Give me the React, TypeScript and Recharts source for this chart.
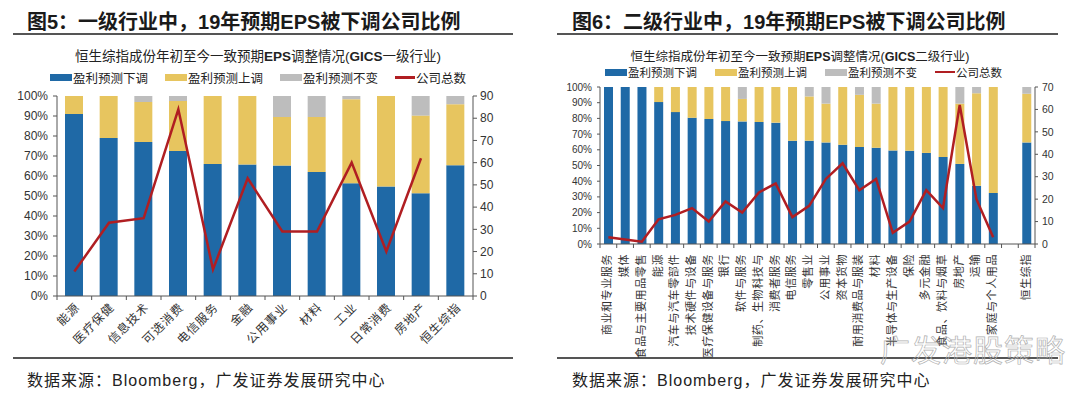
import React from 'react';
import { ComposedChart, Bar, Line, XAxis, YAxis } from 'recharts';

// 图5: GICS 一级行业
const sectors1 = ['能源', '医疗保健', '信息技术', '可选消费', '电信服务', '金融', '公用事业', '材料', '工业', '日常消费', '房地产', '恒生综指'];
const cut1 = [91, 79, 77, 72.5, 66, 65.7, 65.2, 62, 56.4, 54.8, 51.4, 65.4];
const raise1 = [9, 21, 20, 25, 34, 34.3, 24.3, 27.5, 42, 45.2, 38.8, 30.5];
const flat1 = [0, 0, 3, 2.5, 0, 0, 10.5, 10.5, 1.6, 0, 9.8, 4.1];
const companies1 = [11, 33, 35, 84, 12, 53, 29, 29, 60, 20, 62, null];

// 图6: GICS 二级行业
const sectors2 = [
  '商业和专业服务', '媒体', '食品与主要用品零售', '能源', '汽车与汽车零部件', '技术硬件与设备',
  '医疗保健设备与服务', '银行', '软件与服务', '制药、生物科技与', '消费者服务', '电信服务', '零售业',
  '公用事业', '资本货物', '耐用消费品与服装', '材料', '半导体与生产设备', '保险', '多元金融',
  '食品、饮料与烟草', '房地产', '运输', '家庭与个人用品', '', '恒生综指',
];
const cut2 = [100, 100, 100, 90.4, 84, 80.4, 79.6, 78.3, 78.1, 77.7, 77.3, 65.8, 65.8, 64.7, 63.2, 61.8, 61.3, 59.6, 59.4, 58, 55.4, 51, 37.1, 32.5, null, 64.7];
const raise2 = [0, 0, 0, 9.6, 16, 19.6, 20.4, 21.7, 14.3, 22.3, 22.7, 34.2, 28.2, 24.7, 36.8, 33.2, 28.1, 40.4, 40.6, 42, 44.6, 38.4, 58.9, 67.5, null, 31];
const flat2 = [0, 0, 0, 0, 0, 0, 0, 0, 7.6, 0, 0, 0, 6, 10.6, 0, 5, 10.6, 0, 0, 0, 0, 10.6, 4, 0, null, 4.3];
const companies2 = [3, 2, 1, 11, 13, 16, 10, 19, 14, 23, 27, 12, 17, 29, 36, 24, 29, 5, 10, 24, 16, 62, 20, 3, null, null];

const pctTicks = [0, 10, 20, 30, 40, 50, 60, 70, 80, 90, 100];
const countTicks1 = [0, 10, 20, 30, 40, 50, 60, 70, 80, 90];
const countTicks2 = [0, 10, 20, 30, 40, 50, 60, 70];

const BLUE = '#1F69A6';
const YELLOW = '#E7C55F';
const GREY = '#BDBDBD';
const RED = '#B01E22';
const AXIS = '#555';
const FONT = '"Liberation Sans", "Noto Sans CJK SC", sans-serif';

const toRows = (cats: string[], cut: any[], raise: any[], flat: any[], total: any[]) =>
  cats.map((name, i) => ({ name, cut: cut[i], raise: raise[i], flat: flat[i], total: total[i] }));

const rows1 = toRows(sectors1, cut1, raise1, flat1, companies1);
const rows2 = toRows(sectors2, cut2, raise2, flat2, companies2);

// category ticks sit between bars, like the Excel original
const makeTick = (step: number, count: number, mode: 'diag' | 'vertical', fontSize: number) => (props: any) => {
  const { x, y, payload, index } = props;
  const half = step / 2;
  return (
    <g>
      <line x1={x - half} x2={x - half} y1={y} y2={y + 4} stroke={AXIS} />
      {index === count - 1 && <line x1={x + half} x2={x + half} y1={y} y2={y + 4} stroke={AXIS} />}
      {mode === 'diag' ? (
        <text transform={`translate(${x + 6},${y + 12}) rotate(-45)`} textAnchor="end" fontSize={fontSize}
          letterSpacing={1} fill="#333" fontFamily={FONT}>
          {payload.value}
        </text>
      ) : (
        <text transform={`translate(${x - 1},${y + 10}) rotate(-90)`} textAnchor="end" dominantBaseline="central"
          fontSize={fontSize} letterSpacing={0.6} fill="#333" fontFamily={FONT}>
          {payload.value}
        </text>
      )}
    </g>
  );
};

const LegendRow = ({ left, top, fontSize, gap }: { left: number; top: number; fontSize: number; gap: number }) => {
  const items = [
    { label: '盈利预测下调', color: BLUE, line: false },
    { label: '盈利预测上调', color: YELLOW, line: false },
    { label: '盈利预测不变', color: GREY, line: false },
    { label: '公司总数', color: RED, line: true },
  ];
  return (
    <div style={{ position: 'absolute', left, top, display: 'flex', alignItems: 'center', gap, fontFamily: FONT, fontSize, color: '#222', whiteSpace: 'nowrap' }}>
      {items.map((it) => (
        <div key={it.label} style={{ display: 'flex', alignItems: 'center' }}>
          <span style={{ display: 'inline-block', width: it.line ? 20 : 22, height: it.line ? 2.5 : 7, background: it.color, marginRight: 1 }} />
          <span>{it.label}</span>
        </div>
      ))}
    </div>
  );
};

const Subtitle = ({ center, top, fontSize, level }: { center: number; top: number; fontSize: number; level: string }) => (
  <div style={{ position: 'absolute', left: center - 250, width: 500, top, textAlign: 'center', fontFamily: FONT, fontSize, color: '#222', whiteSpace: 'nowrap' }}>
    恒生综指成份年初至今一致预期<b>EPS</b>调整情况(<b>GICS</b>{level}行业)
  </div>
);

const Frame = ({ left, lineLeft, lineRight, title }: { left: number; lineLeft: number; lineRight: number; title: string }) => (
  <>
    <div style={{ position: 'absolute', left, top: 6, fontFamily: FONT, fontSize: 20, fontWeight: 'bold', color: '#1a1a1a', whiteSpace: 'nowrap' }}>
      {title}
    </div>
    <div style={{ position: 'absolute', left: lineLeft, width: lineRight - lineLeft, top: 33, height: 1.5, background: '#555' }} />
    <div style={{ position: 'absolute', left: lineLeft, width: lineRight - lineLeft, top: 357, height: 1.5, background: '#555' }} />
    <div style={{ position: 'absolute', left, top: 367, fontFamily: FONT, fontSize: 16, letterSpacing: 1, color: '#222', whiteSpace: 'nowrap' }}>
      数据来源：Bloomberg，广发证券发展研究中心
    </div>
  </>
);

const App = () => {
  const step1 = (473 - 57) / sectors1.length;
  const step2 = (495 - 60) / sectors2.length;
  return (
    <div style={{ position: 'absolute', left: 0, top: 0, width: 1080, height: 393, background: '#fff', overflow: 'hidden' }}>
      <Frame left={27} lineLeft={13} lineRight={513} title="图5：一级行业中，19年预期EPS被下调公司比例" />
      <Frame left={572} lineLeft={557} lineRight={1058} title="图6：二级行业中，19年预期EPS被下调公司比例" />
      <Subtitle center={258} top={45} fontSize={13.5} level="一级" />
      <Subtitle center={800} top={46} fontSize={12.5} level="二级" />
      <LegendRow left={50} top={68} fontSize={12.5} gap={17} />
      <LegendRow left={605} top={64} fontSize={11.5} gap={18} />

      <div style={{ position: 'absolute', left: 0, top: 0 }}>
        <ComposedChart width={540} height={393} data={rows1} margin={{ top: 96, right: 27, bottom: 37, left: 12 }}>
          <XAxis dataKey="name" interval={0} height={60} tickSize={0} tickMargin={0} tickLine={false}
            axisLine={{ stroke: AXIS }} tick={makeTick(step1, sectors1.length, 'diag', 12)} />
          <YAxis yAxisId="left" width={45} domain={[0, 100]} ticks={pctTicks} interval={0} tickSize={4} tickMargin={5}
            tickFormatter={(v) => `${v}%`} axisLine={{ stroke: AXIS }} tickLine={{ stroke: AXIS }}
            tick={{ fontSize: 12, fill: '#333', fontFamily: FONT }} />
          <YAxis yAxisId="right" orientation="right" width={40} domain={[0, 90]} ticks={countTicks1} interval={0} tickSize={4}
            tickMargin={3} axisLine={{ stroke: AXIS }} tickLine={{ stroke: AXIS }}
            tick={{ fontSize: 12, fill: '#333', fontFamily: FONT }} />
          <Bar yAxisId="left" dataKey="cut" stackId="s" fill={BLUE} barSize={18} isAnimationActive={false} />
          <Bar yAxisId="left" dataKey="raise" stackId="s" fill={YELLOW} barSize={18} isAnimationActive={false} />
          <Bar yAxisId="left" dataKey="flat" stackId="s" fill={GREY} barSize={18} isAnimationActive={false} />
          <Line yAxisId="right" dataKey="total" type="linear" stroke={RED} strokeWidth={2.5} dot={false}
            activeDot={false} connectNulls={false} isAnimationActive={false} />
        </ComposedChart>
      </div>

      <div style={{ position: 'absolute', left: 540, top: 0 }}>
        <ComposedChart width={540} height={393} data={rows2} margin={{ top: 87, right: 5, bottom: 49, left: 10 }}>
          <XAxis dataKey="name" interval={0} height={100} tickSize={0} tickMargin={0} tickLine={false}
            axisLine={{ stroke: AXIS }} tick={makeTick(step2, sectors2.length, 'vertical', 11)} />
          <YAxis yAxisId="left" width={50} domain={[0, 100]} ticks={pctTicks} interval={0} tickSize={3} tickMargin={5}
            tickFormatter={(v) => `${v}%`} axisLine={{ stroke: AXIS }} tickLine={{ stroke: AXIS }}
            tick={{ fontSize: 10, fill: '#333', fontFamily: FONT }} />
          <YAxis yAxisId="right" orientation="right" width={40} domain={[0, 70]} ticks={countTicks2} interval={0} tickSize={3}
            tickMargin={4} axisLine={{ stroke: AXIS }} tickLine={{ stroke: AXIS }}
            tick={{ fontSize: 10.5, fill: '#333', fontFamily: FONT }} />
          <Bar yAxisId="left" dataKey="cut" stackId="s" fill={BLUE} barSize={9} isAnimationActive={false} />
          <Bar yAxisId="left" dataKey="raise" stackId="s" fill={YELLOW} barSize={9} isAnimationActive={false} />
          <Bar yAxisId="left" dataKey="flat" stackId="s" fill={GREY} barSize={9} isAnimationActive={false} />
          <Line yAxisId="right" dataKey="total" type="linear" stroke={RED} strokeWidth={2.5} dot={false}
            activeDot={false} connectNulls={false} isAnimationActive={false} />
        </ComposedChart>
      </div>

      <div style={{ position: 'absolute', left: 880, top: 326, fontFamily: FONT, fontSize: 30, color: 'transparent',
        WebkitTextStroke: '0.7px #b0b0b0', letterSpacing: 1, whiteSpace: 'nowrap' }}>
        广发港股策略
      </div>
    </div>
  );
};

export default App;
